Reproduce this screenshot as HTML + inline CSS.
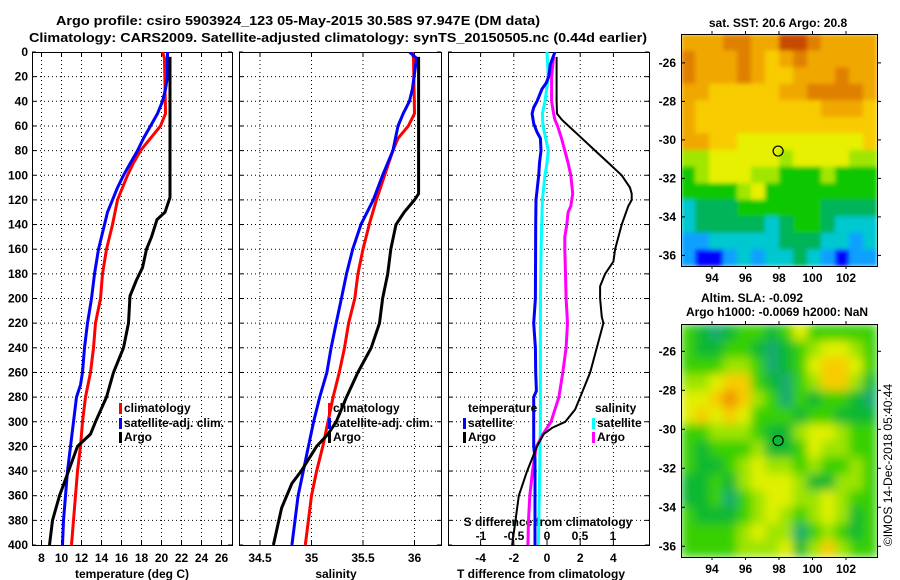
<!DOCTYPE html>
<html><head><meta charset="utf-8"><style>
body{margin:0;background:#fff}
svg{display:block;font-family:"Liberation Sans",Arial,sans-serif;font-weight:bold}
</style></head><body>
<svg id="fig" width="900" height="580" viewBox="0 0 900 580">
<text x="298" y="25" font-size="13" text-anchor="middle" textLength="484" lengthAdjust="spacingAndGlyphs">Argo profile: csiro 5903924_123 05-May-2015 30.58S 97.947E (DM data)</text>
<text x="338" y="42" font-size="13" text-anchor="middle" textLength="618" lengthAdjust="spacingAndGlyphs">Climatology: CARS2009. Satellite-adjusted climatology: synTS_20150505.nc (0.44d earlier)</text>
<g id="g"></g>
<text transform="translate(892,465) rotate(-90)" font-size="12" font-weight="normal" text-anchor="middle">©IMOS 14-Dec-2018 05:40:44</text>
</svg>
<script>
// ---- temperature panel data ----
const argoT_depth=[4,118,130,136,150,160,175,185,198,220,240,260,280,300,310,320,340,360,380,400];
const argoT=[20.85,20.85,20.35,19.55,19.0,18.5,18.1,17.5,16.85,16.7,16.2,15.2,14.5,13.4,12.9,11.6,10.7,9.8,9.1,8.8];
const climT_depth=[0,5,50,60,70,80,90,100,110,120,140,160,180,200,220,240,260,280,300,320,340,360,380,400];
const climT=[20.1,20.3,20.4,19.9,18.9,17.9,17.2,16.6,16.1,15.6,15.1,14.5,14.1,13.9,13.4,13.2,12.9,12.4,12.1,11.9,11.6,11.4,11.2,11.0];
const satT_depth=[0,20,30,40,50,60,70,80,90,100,110,120,130,140,160,180,200,220,240,260,270,280,300,320,340,360,380,400];
const satT=[20.6,20.6,20.4,20.1,19.6,18.9,18.2,17.6,16.9,16.2,15.6,15.1,14.6,14.3,13.7,13.3,13.0,12.6,12.3,12.1,11.9,11.5,11.2,10.9,10.6,10.4,10.2,10.1];
// ---- salinity panel data ----
const argoS_depth=[4,115,120,130,140,160,180,200,220,240,260,280,300,310,320,340,350,370,400];
const argoS=[36.04,36.04,36.0,35.9,35.82,35.77,35.74,35.69,35.66,35.58,35.45,35.34,35.24,35.16,35.05,34.9,34.81,34.71,34.63];
const climS_depth=[0,5,50,60,70,80,100,120,140,160,180,200,220,240,260,280,300,320,340,360,380,400];
const climS=[35.98,35.99,36.0,35.94,35.84,35.79,35.71,35.63,35.56,35.5,35.45,35.42,35.36,35.32,35.27,35.21,35.16,35.11,35.05,35.0,34.97,34.94];
const satS_depth=[0,5,30,40,50,60,80,100,120,140,160,180,200,220,240,260,280,300,320,340,360,380,400];
const satS=[35.95,36.02,35.98,35.95,35.89,35.84,35.79,35.69,35.6,35.48,35.4,35.34,35.29,35.24,35.19,35.15,35.08,35.02,34.97,34.92,34.87,34.84,34.81];
// ---- difference panel data ----
const argoDT_depth=[4,40,50,55,60,70,80,90,100,110,115,120,125,140,160,170,180,190,200,215,220,240,260,280,290,300,305,310,320,340,360,380,400];
const argoDT=[0.58,0.58,0.6,0.9,1.3,2.1,2.9,3.7,4.5,5.0,5.1,5.1,4.9,4.5,4.1,4.0,3.5,3.2,3.2,3.3,3.4,3.0,2.6,2.0,1.7,1.1,0.3,-0.2,-0.6,-1.2,-1.7,-1.9,-2.1];
const satDT_depth=[0,10,20,25,30,40,45,50,58,65,70,80,90,100,120,140,200,220,240,260,275,280,300,320,330,400];
const satDT=[0.48,0.2,0.1,-0.04,-0.3,-0.6,-0.8,-0.9,-0.8,-0.6,-0.4,-0.36,-0.45,-0.5,-0.66,-0.68,-0.7,-0.8,-0.7,-0.68,-0.64,-0.8,-0.8,-0.8,-0.72,-0.72];
const satDS_depth=[0,20,40,50,60,70,80,90,100,120,140,160,200,300,340,400];
const satDS=[0,0.02,-0.03,-0.07,-0.06,-0.02,0.02,0,-0.03,-0.07,-0.08,-0.09,-0.1,-0.1,-0.11,-0.13];
const argoDS_depth=[4,20,40,50,55,60,70,80,90,100,110,115,125,130,140,150,160,180,200,220,240,260,280,300,310,320,340,360,380,400];
const argoDS=[0.1,0.07,0.07,0.1,0.12,0.16,0.22,0.27,0.32,0.36,0.38,0.39,0.36,0.32,0.3,0.27,0.27,0.28,0.29,0.31,0.29,0.24,0.18,0.06,-0.06,-0.16,-0.22,-0.26,-0.28,-0.29];
// ---- ticks ----
const depthTicks=[0,20,40,60,80,100,120,140,160,180,200,220,240,260,280,300,320,340,360,380,400];
const tempTicks=[8,10,12,14,16,18,20,22,24,26];
const salTicks=[34.5,35,35.5,36];
const salTickLabels=["34.5","35","35.5","36"];
const dTTicks=[-4,-2,0,2,4];
const dSTicks=[-1,-0.5,0,0.5,1];
const dSTickLabels=["-1","-0.5","0","0.5","1"];
const lonTicks=[94,96,98,100,102];
const latTicks=[-26,-28,-30,-32,-34,-36];
// ---- map data ----
const argoLon=97.947, argoLat=-30.58;
const sstGrid=[
[7,7,7,8,8,7,7,9,9,8,7,7,7,7],
[8,7,7,7,8,7,6,7,8,7,7,7,7,7],
[8,7,7,7,8,7,6,6,7,7,7,8,7,7],
[7,7,6,6,6,6,6,7,7,8,8,8,8,7],
[7,6,6,6,6,6,6,6,6,6,7,7,7,6],
[7,6,6,6,6,6,6,6,6,6,6,6,6,6],
[7,7,6,6,5,5,5,5,5,5,5,5,5,6],
[4,4,5,5,5,5,5,4,5,5,5,5,4,4],
[3,4,5,5,5,4,4,3,3,3,4,3,3,3],
[3,3,3,3,4,5,3,3,3,3,3,3,3,3],
[1,2,2,2,3,3,3,3,3,3,2,2,2,2],
[1,2,2,2,2,2,1,2,3,3,2,1,1,1],
[0,0,1,1,1,1,1,2,2,2,1,1,0,1],
[0,-1,-1,0,1,0,1,1,2,1,0,-1,0,0]];
const slaGrid=[
[2,1,0,1,2,2,1,2,4,2,2,2,2,2],
[2,1,1,2,2,1,0,1,2,3,4,4,3,2],
[2,2,2,3,3,2,0,1,2,4,5,5,4,2],
[3,3,4,5,5,2,1,0,2,3,5,5,3,1],
[4,4,5,6,5,3,2,0,2,1,2,2,1,0],
[4,5,4,5,4,2,2,2,1,2,2,1,1,1],
[2,2,3,3,3,2,1,1,3,4,4,3,2,2],
[2,1,2,2,2,3,1,1,2,4,3,3,2,2],
[2,1,1,2,3,4,3,3,2,3,2,2,3,2],
[1,1,2,1,3,4,4,4,3,1,1,3,3,2],
[1,1,2,0,2,3,4,4,3,3,4,3,2,2],
[2,1,1,1,2,3,4,3,2,3,4,3,1,2],
[2,2,2,2,3,4,3,3,0,2,3,2,1,2],
[2,2,2,2,3,3,3,4,1,3,5,3,2,2]];

const NS="http://www.w3.org/2000/svg";
const G=document.getElementById('g');
function mk(t,a,p){const e=document.createElementNS(NS,t);for(const k in a)e.setAttribute(k,a[k]);(p||G).appendChild(e);return e;}
const top0=52,bot0=545;
const yD=d=>top0+(bot0-top0)*d/400;
const xT=v=>41.5+(v-8)*10;
const xS=v=>260+(v-34.5)*103;
const xDT=v=>547+v*16.6;
const xDS=v=>547+v*66;

// clip paths
const defs=mk('defs',{});
[[32,232,'c1'],[239,441,'c2'],[448,649,'c3']].forEach(([a,b,id])=>{const c=mk('clipPath',{id:id},defs);mk('rect',{x:a,y:top0,width:b-a,height:bot0-top0},c);});

function panel(x0,x1,name,vticks,xf,clip){
  const g=mk('g',{});
  
  
  depthTicks.forEach(d=>{if(d>0&&d<400){const l=mk('line',{x1:x0,x2:x1,y1:yD(d),y2:yD(d),stroke:'#000','stroke-width':1,'stroke-dasharray':'1,3'},g);}
    mk('line',{x1:x0,x2:x0+4,y1:yD(d),y2:yD(d),stroke:'#000'},g);mk('line',{x1:x1,x2:x1-4,y1:yD(d),y2:yD(d),stroke:'#000'},g);});
  vticks.forEach(v=>{const x=xf(v);const l=mk('line',{x1:x,x2:x,y1:top0,y2:bot0,stroke:'#000','stroke-dasharray':'1,3'},g);
    mk('line',{x1:x,x2:x,y1:top0,y2:top0+4,stroke:'#000'},g);mk('line',{x1:x,x2:x,y1:bot0,y2:bot0-4,stroke:'#000'},g);});
  const r=mk('rect',{x:x0+0.5,y:top0+0.5,width:x1-x0,height:bot0-top0,fill:'none',stroke:'#000'},g);
  
  return g;
}
function series(dep,val,xf,color,w,clip,name){
  const pts=dep.map((d,i)=>xf(val[i]).toFixed(1)+','+yD(d).toFixed(1)).join(' ');
  const p=mk('polyline',{points:pts,fill:'none',stroke:color,'stroke-width':w,'stroke-linejoin':'round','clip-path':'url(#'+clip+')'});
  
  
}
function txt(x,y,s,anchor,size,name,extra){
  const t=mk('text',Object.assign({x:x,y:y,'font-size':size||12,'text-anchor':anchor||'middle'},extra||{}));
  t.textContent=s;
  
  
  return t;
}
// panel 1
panel(32,232,'temperature-panel',tempTicks,xT);
depthTicks.forEach(d=>txt(28,yD(d)+4,String(d),'end',12,'depth-tick-label'));
tempTicks.forEach(v=>txt(xT(v),562,String(v),'middle',12,'temperature-tick-label'));
txt(132,578,'temperature (deg C)','middle',12,'temperature-axis-title');
series(climT_depth,climT,xT,'#f00',3,'c1','climatology-temperature-line');
series(satT_depth,satT,xT,'#00f',3,'c1','satellite-temperature-line');
series(argoT_depth,argoT,xT,'#000',3,'c1','argo-temperature-line');
// panel 2
panel(239,441,'salinity-panel',salTicks,xS);
salTicks.forEach((v,i)=>txt(xS(v),562,salTickLabels[i],'middle',12,'salinity-tick-label'));
txt(336,578,'salinity','middle',12,'salinity-axis-title');
series(climS_depth,climS,xS,'#f00',3,'c2','climatology-salinity-line');
series(satS_depth,satS,xS,'#00f',3,'c2','satellite-salinity-line');
series(argoS_depth,argoS,xS,'#000',3,'c2','argo-salinity-line');
// panel 3
panel(448,649,'difference-panel',dTTicks,xDT);
dTTicks.forEach(v=>txt(xDT(v),562,String(v),'middle',12,'t-difference-tick-label'));
txt(541,578,'T difference from climatology','middle',12,'t-difference-axis-title');
txt(548,526,'S difference from climatology','middle',12,'s-difference-axis-title');
dSTicks.forEach((v,i)=>txt(xDS(v),540,dSTickLabels[i],'middle',12,'s-difference-tick-label'));
series(satDS_depth,satDS,xDS,'#0ff',3,'c3','satellite-salinity-difference-line');
series(argoDS_depth,argoDS,xDS,'#f0f',3,'c3','argo-salinity-difference-line');
series(satDT_depth,satDT,xDT,'#00f',3,'c3','satellite-temperature-difference-line');
series(argoDT_depth,argoDT,xDT,'#000',2,'c3','argo-temperature-difference-line');
// legends
function legItem(x,y,color,label,name){
  const g=mk('g',{});
  
  
  mk('rect',{x:x,y:y-9,width:3,height:11,fill:color},g);
  const t=mk('text',{x:x+5,y:y,'font-size':12},g);t.textContent=label;
}
legItem(119,412,'#f00','climatology','legend-climatology');
legItem(119,427,'#00f','satellite-adj. clim.','legend-satellite-adj');
legItem(119,441,'#000','Argo','legend-argo');
legItem(328,412,'#f00','climatology','legend-climatology-2');
legItem(328,427,'#00f','satellite-adj. clim.','legend-satellite-adj-2');
legItem(328,441,'#000','Argo','legend-argo-2');
txt(468,412,'temperature','start',12,'legend-temperature-heading');
legItem(463,427,'#00f','satellite','legend-t-satellite');
legItem(463,441,'#000','Argo','legend-t-argo');
txt(595,412,'salinity','start',12,'legend-salinity-heading');
legItem(592,427,'#0ff','satellite','legend-s-satellite');
legItem(592,441,'#f0f','Argo','legend-s-argo');

// maps
const sstPal={'-1':'#0000ff','0':'#10a0ff','1':'#00c8d0','2':'#00b45a','3':'#10c800','4':'#a0e600','5':'#e6f000','6':'#f8cc00','7':'#f0a800','8':'#e08000','9':'#c84a00'};
const slaPal=['#18aa70','#10b830','#38d000','#9ce400','#e0f000','#f8cc00','#f09000'];
function drawMap(x0,x1,y0,y1,latTop,latBot,grid,pal,name,blur){
  const lonL=92.15,lonR=103.85;
  const xL=v=>x0+(v-lonL)/(lonR-lonL)*(x1-x0);
  const yL=v=>y0+(latTop-v)/(latTop-latBot)*(y1-y0);
  const g=mk('g',blur?{filter:'url(#'+blur+')'}:{});
  
  
  const cp=mk('clipPath',{id:name+'-clip'},defs);mk('rect',{x:x0,y:y0,width:x1-x0,height:y1-y0},cp);
  g.setAttribute('clip-path','url(#'+name+'-clip)');
  const rows=grid.length,cols=grid[0].length;
  const cw=(x1-x0)/cols,ch=(y1-y0)/rows;
  grid.forEach((row,r)=>row.forEach((v,c)=>{
    const cell=mk('rect',{x:(x0+c*cw).toFixed(2),y:(y0+r*ch).toFixed(2),width:(cw+0.6).toFixed(2),height:(ch+0.6).toFixed(2),fill:pal[v]},g);
    
    
  }));
  const fr=mk('rect',{x:x0+0.5,y:y0+0.5,width:x1-x0,height:y1-y0,fill:'none',stroke:'#000'});
  
  const m=mk('circle',{cx:xL(argoLon),cy:yL(argoLat),r:5,fill:'none',stroke:'#000','stroke-width':1.2});
  
  latTicks.forEach(v=>{const y=yL(v);txt(x0-5,y+4,String(v),'end',12,'latitude-tick-label');
    mk('line',{x1:x0,x2:x0+4,y1:y,y2:y,stroke:'#000'});mk('line',{x1:x1,x2:x1+4,y1:y,y2:y,stroke:'#000'});});
  lonTicks.forEach(v=>{const x=xL(v);txt(x,y1+16,String(v),'middle',12,'longitude-tick-label');
    mk('line',{x1:x,x2:x,y1:y1,y2:y1+3,stroke:'#000'});mk('line',{x1:x,x2:x,y1:y0,y2:y0-3,stroke:'#000'});});
}
const f=mk('filter',{id:'soft',x:'0',y:'0',width:'1',height:'1'},defs);mk('feGaussianBlur',{stdDeviation:'5',edgeMode:'duplicate'},f);
const f2=mk('filter',{id:'soft2',x:'0',y:'0',width:'1',height:'1'},defs);mk('feGaussianBlur',{stdDeviation:'2',edgeMode:'duplicate'},f2);
drawMap(681,877,34,266,-24.5,-36.55,sstGrid,sstPal,'sst-map','soft2');
txt(778,27,'sat. SST: 20.6 Argo: 20.8','middle',12,'sst-map-title');
drawMap(681,877,324,557,-24.6,-36.55,slaGrid,slaPal,'sla-map','soft');
txt(752,302,'Altim. SLA: -0.092','middle',12,'sla-map-title');
txt(777,316,'Argo h1000: -0.0069 h2000: NaN','middle',12,'sla-map-subtitle');
</script>
</body></html>
